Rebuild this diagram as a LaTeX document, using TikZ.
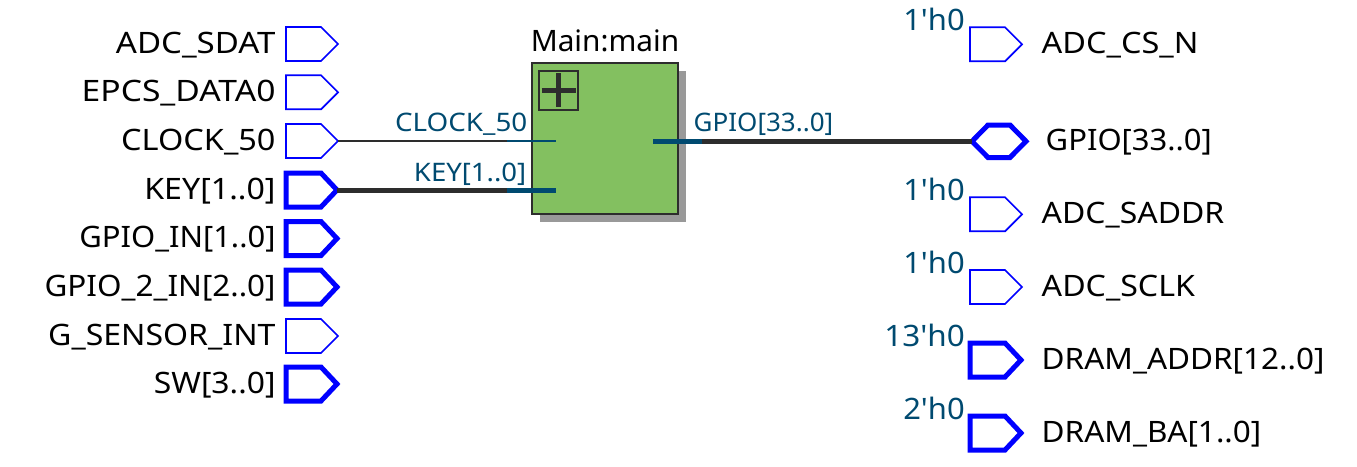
\documentclass[tikz,border=0pt]{standalone}
\usepackage{graphicx}
\usepackage{fontspec}
\setmainfont{Noto Sans}
\definecolor{pinblue}{RGB}{0,0,255}
\definecolor{labelteal}{RGB}{0,74,112}
\definecolor{wiredark}{RGB}{45,45,45}
\definecolor{boxgreen}{RGB}{131,192,96}
\definecolor{shadowgrey}{RGB}{153,153,153}
\newcommand{\inpin}[4]{% name, x, y, line width
  \pgfmathsetmacro{\tipdx}{#4>3?16:17}
  \coordinate (#1) at (#2+35+\tipdx,#3);
  \draw[pinline,line width=#4] (#2,#3-17) -- ++(35,0) -- (#1) -- (#2+35,#3+17) -- ++(-35,0) -- cycle;
}
\tikzset{
  pinline/.style={draw=pinblue,line join=miter},
  pintext/.style={font=\fontsize{29.5pt}{34pt}\selectfont,text=black,inner sep=0pt},
  valtext/.style={font=\fontsize{29.5pt}{34pt}\selectfont,text=labelteal,inner sep=0pt},
  wiretext/.style={font=\fontsize{25.5pt}{30pt}\selectfont,text=labelteal,inner sep=0pt},
  thinwire/.style={draw=wiredark,line width=1.7pt},
  thickwire/.style={draw=wiredark,line width=5pt},
  thinstub/.style={draw=labelteal,line width=1.7pt},
  thickstub/.style={draw=labelteal,line width=5pt},
}
\begin{document}
\begin{tikzpicture}[x=1pt,y=-1pt]
\useasboundingbox (0,0) rectangle (1357,466);
% input pins
\foreach \n/\y/\w/\f/\t in {a/44/1.7/1.12/ADC\_SDAT,b/92.3/1.7/1.14/EPCS\_DATA0,c/141/1.7/1.10/CLOCK\_50,d/190/5/1.09/KEY[1..0],e/238.5/5/1.05/GPIO\_IN[1..0],f/287/5/1.065/GPIO\_2\_IN[2..0],g/336/1.7/1.087/G\_SENSOR\_INT,h/384/5/1.08/SW[3..0]}{
  \inpin{pin\n}{286}{\y}{\w}
  \node[pintext,anchor=base east] (lab\n) at (275.7,\y+9.3) {\scalebox{\f}[1]{\t}};
}
% output pins
\foreach \n/\y/\w/\f/\t in {p/44.3/1.7/1.10/ADC\_CS\_N,r/214.3/1.7/1.083/ADC\_SADDR,s/287/1.7/1.09/ADC\_SCLK,t/360/5/1.068/DRAM\_ADDR[12..0],u/433/5/1.068/DRAM\_BA[1..0]}{
  \inpin{pin\n}{970}{\y}{\w}
  \node[pintext,anchor=base west] (lab\n) at (1041.5,\y+9) {\scalebox{\f}[1]{\t}};
}
\node[valtext,anchor=base east] (vp) at (965,30) {\scalebox{1.05}[1]{1\textquotesingle h0}};
\node[valtext,anchor=base east] (vr) at (965,200) {\scalebox{1.05}[1]{1\textquotesingle h0}};
\node[valtext,anchor=base east] (vs) at (965,273) {\scalebox{1.05}[1]{1\textquotesingle h0}};
\node[valtext,anchor=base east] (vt) at (965,346) {\scalebox{1.067}[1]{13\textquotesingle h0}};
\node[valtext,anchor=base east] (vu) at (965,419) {\scalebox{1.05}[1]{2\textquotesingle h0}};
% bidir pin
\coordinate (pinq) at (972,141.3);
\draw[pinline,line width=5pt] (pinq) -- (988,125) -- (1010,125) -- (1026,141.3) -- (1010,157.5) -- (988,157.5) -- cycle;
\node[pintext,anchor=base west] (labq) at (1045.5,150.5) {\scalebox{1.05}[1]{GPIO[33..0]}};
% main block
\fill[shadowgrey] (540,71) rectangle (686,221.5);
\node[draw=wiredark,line width=1.7pt,fill=boxgreen,minimum width=146pt,minimum height=151pt,inner sep=0pt,outer sep=0pt,anchor=north west] (main) at (532,63) {};
\node[pintext,anchor=base] (mainlab) at (605,51) {\scalebox{1.01}[1]{Main:main}};
\node[draw=wiredark,line width=1.5pt,minimum width=39pt,minimum height=39pt,inner sep=0pt,outer sep=0pt] (plus) at (558.5,90.3) {};
\draw[wiredark,line width=5pt] (plus.center) ++(-17,0) -- ++(34,0);
\draw[wiredark,line width=5pt] (plus.center) ++(0,-17) -- ++(0,34);
% stubs
\coordinate (clkin) at (556,141);
\coordinate (keyin) at (556,190);
\coordinate (gpout) at (653,141.3);
\coordinate (clkj) at (507,141);
\coordinate (keyj) at (507,190);
\coordinate (gpj) at (702,141.3);
\draw[thinwire] (pinc) -- (clkj);
\draw[thinstub] (clkj) -- (clkin);
\draw[thickwire] (pind) -- (keyj);
\draw[thickstub] (keyj) -- (keyin);
\draw[thickwire] (gpj) -- (pinq);
\draw[thickstub] (gpout) -- (gpj);
\node[wiretext,anchor=base east] (wclk) at (527.5,131.5) {\scalebox{1.09}[1]{CLOCK\_50}};
\node[wiretext,anchor=base east] (wkey) at (526.5,181.5) {\scalebox{1.08}[1]{KEY[1..0]}};
\node[wiretext,anchor=base west] (wgp) at (693.5,131.5) {\scalebox{1.02}[1]{GPIO[33..0]}};
\end{tikzpicture}
\end{document}
